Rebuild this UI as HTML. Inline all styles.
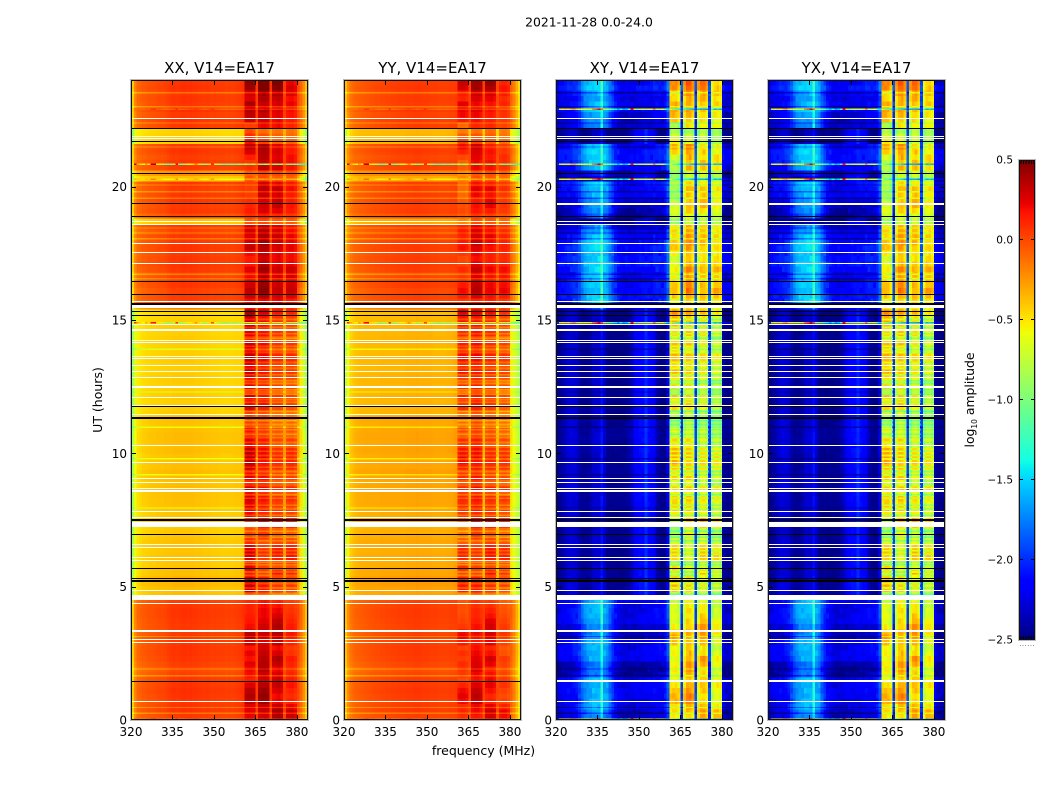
<!DOCTYPE html>
<html>
<head>
<meta charset="utf-8">
<title>2021-11-28 0.0-24.0</title>
<style>
html,body{margin:0;padding:0;background:#fff;}
svg{display:block;}
text{font-family:"DejaVu Sans","Liberation Sans",sans-serif;fill:#000;}
</style>
</head>
<body>
<svg id="figure" xmlns="http://www.w3.org/2000/svg" width="1050" height="800" viewBox="0 0 1050 800">
<rect x="0" y="0" width="1050" height="800" fill="#fff"/>
<text x="589" y="26.5" font-size="12.4" text-anchor="middle">2021-11-28 0.0-24.0</text>
<text x="483.5" y="755" font-size="12.5" text-anchor="middle">frequency (MHz)</text>
<text transform="translate(102,400) rotate(-90)" font-size="12.5" text-anchor="middle">UT (hours)</text>
<text transform="translate(974,400) rotate(-90)" font-size="12.4" text-anchor="middle">log<tspan font-size="7.5" dy="3">10</tspan><tspan dy="-3"> amplitude</tspan></text>
</svg>
<script>
// ---------- chart data (log10 amplitude) ----------
const panelNames = ["XX", "YY", "XY", "YX"];
const xTickValues = [320, 335, 350, 365, 380];
const yTickValues = [0, 5, 10, 15, 20];
const colorbarTickValues = [0.5, 0.0, -0.5, -1.0, -1.5, -2.0, -2.5];

// spectra per 1 MHz channel, 320..383 MHz
const nightXX = [-.45,-.22,-.12,-.1,-.08,-.07,-.05,-.05,-.04,-.03,
 -.02,-.02,-.01,.01,.03,.04,.03,.04,.05,.05,
 .04,.05,.04,.04,.03,.03,.02,.03,.02,.01,
 .02,.01,.01,.01,0,.01,0,.01,.02,.03,
 .05,.23,.25,.25,.23,.02,.25,.27,.28,.25,
 .04,.2,.22,.24,.2,.02,.16,.18,.18,.14,
 -.02,-.12,-.25,-.42];
const dayXX = [-.85,-.62,-.5,-.47,-.45,-.44,-.43,-.42,-.42,-.41,
 -.41,-.41,-.4,-.4,-.4,-.39,-.39,-.39,-.39,-.39,
 -.39,-.39,-.39,-.4,-.4,-.4,-.41,-.41,-.41,-.42,
 -.42,-.42,-.43,-.43,-.43,-.43,-.43,-.42,-.42,-.42,
 -.4,.13,.16,.16,.1,-.2,.07,.09,.09,.05,
 -.25,0,.03,.03,0,-.28,0,.03,.03,-.02,
 -.3,-.5,-.68,-.85];
const nightYY = [-.4,-.25,-.16,-.12,-.1,-.09,-.08,-.07,-.06,-.05,
 -.04,-.03,-.03,-.02,-.02,-.01,-.01,0,0,.01,
 .01,.01,.02,.02,.02,.03,.03,.03,.02,.02,
 .02,.01,.01,.01,0,0,0,0,.01,.01,
 .02,.09,.11,.11,.08,0,.15,.17,.17,.13,
 0,.12,.14,.14,.1,-.02,.06,.08,.08,.04,
 -.1,-.2,-.35,-.5];
const dayYY = [-.75,-.55,-.42,-.38,-.35,-.34,-.34,-.33,-.33,-.33,
 -.33,-.33,-.33,-.32,-.32,-.32,-.32,-.32,-.32,-.32,
 -.32,-.32,-.31,-.31,-.31,-.31,-.3,-.31,-.31,-.31,
 -.31,-.31,-.32,-.32,-.32,-.32,-.32,-.31,-.31,-.3,
 -.28,-.03,0,0,-.04,-.35,.05,.08,.08,.04,
 -.38,.02,.05,.05,.01,-.4,-.04,-.01,-.01,-.05,
 -.5,-.62,-.72,-.8];
const nightXY = [-2.3,-2.25,-2.22,-2.2,-2.18,-2.18,-2.12,-2.1,-2,-1.85,
 -1.75,-1.68,-1.65,-1.62,-1.6,-1.6,-1.32,-1.65,-1.7,-1.85,
 -2,-2.12,-2.2,-2.25,-2.28,-2.28,-2.28,-2.28,-2.28,-2.25,
 -2.25,-2.25,-2.22,-2.22,-2.22,-2.18,-2.18,-2.18,-2.18,-2.12,
 -1.9,-.55,-.5,-.5,-.62,-1.95,-.62,-.42,-.42,-.55,
 -1.95,-.68,-.5,-.48,-.6,-1.95,-.7,-.54,-.52,-.6,
 -2.25,-2.35,-2.35,-2.38];
const dayXY = [-2.47,-2.45,-2.4,-2.34,-2.28,-2.26,-2.28,-2.3,-2.4,-2.45,
 -2.45,-2.45,-2.4,-2.32,-2.3,-2.3,-2.1,-2.32,-2.45,-2.47,
 -2.47,-2.47,-2.47,-2.47,-2.47,-2.45,-2.4,-2.35,-2.2,-2.15,
 -2.12,-2.12,-2,-2.12,-2.15,-2.2,-2.38,-2.45,-2.47,-2.47,
 -2.2,-.7,-.6,-.6,-.72,-1.95,-.7,-.56,-.56,-.7,
 -1.95,-.78,-.58,-.56,-.7,-1.95,-.82,-.66,-.64,-.76,
 -2.42,-2.47,-2.47,-2.47];
const nightYX = [-2.3,-2.26,-2.22,-2.2,-2.18,-2.18,-2.14,-2.08,-1.96,-1.82,
 -1.72,-1.66,-1.64,-1.62,-1.6,-1.6,-1.34,-1.64,-1.7,-1.88,
 -2.02,-2.14,-2.2,-2.25,-2.28,-2.28,-2.28,-2.28,-2.27,-2.25,
 -2.25,-2.25,-2.22,-2.22,-2.22,-2.19,-2.18,-2.18,-2.18,-2.12,
 -1.9,-.5,-.48,-.5,-.62,-1.98,-.62,-.44,-.42,-.55,
 -1.95,-.66,-.48,-.46,-.6,-1.95,-.68,-.52,-.5,-.58,
 -2.25,-2.35,-2.37,-2.38];
const dayYX = [-2.47,-2.45,-2.4,-2.34,-2.28,-2.26,-2.28,-2.3,-2.4,-2.45,
 -2.45,-2.45,-2.4,-2.32,-2.3,-2.3,-2.12,-2.32,-2.45,-2.47,
 -2.47,-2.47,-2.47,-2.47,-2.47,-2.45,-2.4,-2.33,-2.2,-2.15,
 -2.12,-2.12,-2.02,-2.12,-2.15,-2.2,-2.38,-2.45,-2.47,-2.47,
 -2.2,-.66,-.58,-.58,-.7,-1.95,-.68,-.54,-.54,-.68,
 -1.95,-.76,-.56,-.54,-.68,-1.95,-.8,-.64,-.62,-.74,
 -2.42,-2.47,-2.47,-2.47];

// per-row values, one row = 0.2 h, row 0 at UT 0
const rowDayWeight = [0,0,0,0,0,0,0,0,0,0,
 0,0,0,0,0,0,0,0,0,0,
 0,0,0,1,1,1,1,1,1,1,
 1,1,1,1,1,1,1,1,1,1,
 1,1,1,1,1,1,1,1,1,1,
 1,1,1,1,1,1,1,1,1,1,
 1,1,1,1,1,1,1,1,1,1,
 1,1,1,1,1,1,1,.5,0,0,
 0,0,0,0,0,0,0,0,0,0,
 0,0,0,.9,.1,0,0,0,0,0,
 0,.9,.6,0,0,0,0,0,1,1,
 1,0,0,0,0,0,0,0,0,0];
const rowLowShift = [.01,.03,.03,.02,.03,.04,.03,.02,-.01,-.03,
 0,.02,.03,.03,.02,.01,0,.01,.02,.03,
 .03,.02,0,.02,.03,.05,.05,.02,.01,0,
 .01,0,.01,.02,0,-.01,-.02,0,0,.01,
 .02,.02,.02,.03,.02,.03,.04,.02,.02,.01,
 .03,.02,.03,.03,.02,.01,.02,-.02,-.02,-.03,
 -.02,-.02,-.03,-.02,-.02,-.03,-.03,-.02,-.03,-.03,
 -.03,-.02,-.03,-.03,-.03,-.04,-.05,0,0,.01,
 -.01,.02,.03,-.01,.02,.03,.02,.01,.03,.02,
 .02,-.01,.02,-.03,0,.02,.01,.03,.02,.01,
 .02,-.03,0,.01,.02,0,.03,.02,-.03,-.03,
 -.04,.02,.03,.01,.04,.02,.03,.02,.04,.03];
const rowCrossShift = [-.1,-.1,0,0,0,0,0,.02,-.15,-.15,
 -.15,0,0,0,0,-.1,-.1,-.1,0,0,
 0,0,.05,0,0,0,0,0,0,0,
 0,0,0,0,0,0,0,0,0,0,
 0,0,0,0,0,0,0,0,0,0,
 0,0,0,0,0,0,0,0,0,0,
 0,0,0,0,0,0,0,0,0,0,
 0,0,0,0,0,0,0,0,.15,.12,
 .1,.08,.05,.08,.1,.12,.1,.08,.1,.1,
 .05,0,-.1,-.15,-.2,-.15,-.1,-.05,.02,.05,
 .08,0,-.05,.05,.1,.12,.1,.05,0,0,
 0,-.1,-.1,-.05,.05,.02,-.05,.02,.1,.05];
const blockA = [-.02,.02,0,.1,.14,.1,.02,-.1,-.05,-.04,
 0,-.06,-.02,-.08,.05,.12,.1,-.05,-.08,-.1,
 -.12,-.12,-.15,-.1,.15,.18,.12,.02,.1,-.05,
 .12,.15,.1,-.05,-.12,-.15,-.2,-.1,.05,.12,
 .1,.12,.05,.12,-.05,.1,.05,.15,.2,.22,
 .18,.05,.1,-.05,.02,-.1,-.15,-.12,.1,.05,
 .15,-.05,.1,.02,.1,.18,.1,.18,.2,.12,
 .15,-.02,.1,.15,.2,.18,.25,0,-.05,.05,
 .1,.05,0,-.05,0,-.08,-.1,-.05,.08,.05,
 .02,.05,.02,-.2,-.15,-.1,-.12,-.15,-.2,-.2,
 -.2,-.2,-.25,-.15,-.18,-.1,.02,.1,.03,-.05,
 -.15,-.2,.05,.1,.12,.15,.02,.05,.18,.2];
const blockB = [0,.04,.05,.15,.18,.15,.1,.02,.05,.1,
 .1,.08,.05,.02,0,.02,.05,.02,-.02,-.05,
 -.05,-.08,-.1,-.05,.08,.1,.05,-.05,-.05,-.08,
 -.02,.02,-.05,-.1,.02,-.05,.05,.12,.02,.1,
 .05,.1,0,.12,-.02,.1,.02,.08,.1,.14,
 .12,.02,.08,-.05,-.02,-.05,-.1,-.1,.05,.1,
 .1,0,.08,.02,.05,.1,.05,.12,.15,.05,
 .12,-.02,.1,.1,.12,.1,.18,0,-.05,.1,
 .2,.18,.12,.1,.15,.08,.02,.05,.1,.15,
 .12,.1,.08,-.1,-.1,0,.02,0,.05,.08,
 .02,-.1,-.15,.05,.05,.08,.1,.15,-.05,-.1,
 -.2,-.05,.02,.05,.1,.05,.1,.15,.25,.25];
const blockC = [.15,.2,.1,0,-.02,.05,.1,.08,.05,0,
 .1,.15,.05,-.02,.1,.12,.15,.15,.12,.05,
 0,-.05,-.1,-.1,.02,.05,0,.15,-.05,-.02,
 .12,.15,.1,-.02,-.08,-.1,.1,.18,.02,.05,
 .02,.05,-.05,.08,-.1,0,-.02,.05,.08,.1,
 .05,-.1,0,-.08,-.05,-.12,-.15,-.15,-.02,.02,
 .05,-.05,.02,-.05,.02,.05,0,.08,.1,0,
 .05,-.08,.05,.02,.08,.05,.15,0,0,.05,
 .1,.08,.05,.05,.08,.02,0,0,.05,.08,
 .1,.05,.05,-.1,-.1,.02,.1,.1,.05,.1,
 0,-.1,-.1,.05,.05,.02,.05,.02,-.1,-.1,
 -.15,-.02,0,.02,.05,.05,.1,.15,.25,.3];
const blockD = [.12,.15,.05,-.05,-.08,-.05,0,-.02,-.05,-.08,
 -.05,-.02,-.1,-.12,-.05,-.02,0,-.02,-.05,-.08,
 -.1,-.12,-.15,-.12,0,.05,0,.1,-.05,0,
 .15,.12,.1,-.02,-.1,-.1,.08,.12,0,.05,
 .02,.08,-.05,.1,-.1,.02,0,.08,.1,.12,
 .08,-.08,.02,-.1,-.05,-.1,-.15,-.15,-.05,0,
 .02,-.08,0,-.05,.02,.05,0,.08,.1,0,
 .05,-.1,.02,.02,.05,.02,.1,0,-.02,.08,
 .15,.12,.1,.1,.12,.05,.02,.02,.06,.05,
 .05,.02,0,-.1,-.1,-.02,0,-.02,-.02,.02,
 -.02,-.1,-.1,0,.02,.02,-.02,-.02,-.1,-.12,
 -.15,-.05,-.02,0,.02,.05,.02,.08,.1,.05];

// fine-grain speckle seen on the cross-hand panels
const crossGrain = [.06,-.05,.09,-.02,.03,-.09,.05,.01,-.07,.1,-.04,.02,-.1,.07,-.01,.04,-.06,.08,-.03,0,.05,-.08,.02,.09,-.05,-.02,.06,-.09,.03,.07,-.04];

// thin paler lines
const paleRowHours = [23.52,23.0,22.39,21.49,20.06,19.81,19.57,18.45,18.26,18.05,16.72,16.55,3.13,1.91,1.66,.47,.25,10.98,9.8,9.2,7.95,13.9,12.3];
const paleParallelShift = -.2;
const paleCrossShift = -.25;

// thin striations inside the high-band blocks during the yellow epoch
const blockStripeHours = [4.72,4.95,5.12,5.42,5.55,5.82,5.92,6.22,6.35,6.72,6.85,7.08,7.68,7.9,8.05,8.32,8.44,8.78,9.18,9.32,9.48,9.78,9.92,10.08,10.42,10.58,10.72,10.88,11.08,11.22,11.58,11.92,12.02,12.22,12.38,12.62,12.72,12.95,13.18,13.42,13.78,13.88,14.02,14.32,14.48,14.72,15.02];
const blockStripeShift = -.18;

// RFI spike rows
const spikeRowHours = [22.9,20.84,20.28,14.9,.03];
const spikeParallelWeights = [.15,1,.3,.8,.2];
const spikeCrossWeights = [1,1,1,1,1];
const spikeParallel = [-.6,.3,-.3,-.5,-.6,-.3,-.5,.3,.35,-.5,
 -.55,-.8,-1,-1.1,-1,-.9,.2,-1.1,-1,-.9,
 -.7,-.6,-.5,-.2,-.5,-.8,-1,-.9,-.5,.1,
 -.7,-.8,-1,-1.1,-1.1,-1,-1,-1.1,-1,-.9,
 -1,-.7,-1,-.9,-.8,-.3,-.9,-1,-.8,-.7,
 -.3,-1,-.9,-1,-.8,-.3,-1,-1,-1.1,-1,
 -1.1,-1.2,-1.2,-1.2];
const spikeCross = [-2,-.5,-.6,-.5,-.55,-.4,-.3,-.5,-.6,-.55,
 -.6,-.7,-.5,-.2,-.05,.25,-.1,-.8,-.9,-1,
 -1.2,-1.4,-1.6,-1.3,-1.6,-1.5,-1,.2,-.5,-.9,
 -.7,-.7,-.7,-.6,-.7,-.2,-.7,-.7,-.6,-1,
 -1.5,-.7,-1,-1.2,-1.4,-2,-1.3,-1.4,-1.5,-1.6,
 -2,-1.6,-1.6,-1.6,-1.7,-2,-1.3,-1.6,-1.5,-1.6,
 -2.2,-2.2,-2.3,-2.3];

// flagged integrations (UT centre and duration in hours)
const whiteFlagHours = [22.56,21.87,21.79,18.69,18.59,17.88,17.54,17.13,15.7,15.5,14.84,14.64,14.24,14.16,13.64,13.56,13.3,13.08,12.84,12.5,12.1,11.8,11.45,10.3,9.66,9.05,8.9,8.67,8.61,8.55,7.82,7.59,7.34,6.59,6.48,6.1,5.99,4.85,4.595,4.36,3.35,3.03,2.91,.7];
const whiteFlagWidths = [.04,.04,.04,.04,.04,.04,.04,.04,.04,.12,.04,.08,.04,.04,.04,.04,.04,.04,.04,.08,.04,.04,.04,.04,.04,.04,.04,.04,.04,.04,.04,.04,.2,.04,.04,.04,.04,.04,.17,.04,.08,.04,.04,.04];
const blackFlagHours = [22.17,21.68,20.49,18.89,16.45,15.96,15.61,15.31,15.18,11.76,11.34,7.48,6.96,5.69,5.3,5.24,5.18];
const blackFlagWidths = [.04,.04,.04,.04,.04,.04,.08,.04,.04,.04,.08,.08,.04,.04,.03,.03,.03];
const mixedFlagHours = [19.35,1.46];
const mixedFlagParallelWidths = [.04,.04];
const mixedFlagCrossWidths = [.06,.09];

// ---------- rendering ----------
const NS = "http://www.w3.org/2000/svg";
const svg = document.getElementById("figure");
const panelLefts = [131, 344, 556, 768];
const plotWidth = 177;
const plotTop = 80;
const plotBottom = 720;
const xMin = 320;
const xMax = 384;
const yMax = 24;
const rowHours = 0.2;
const colorMin = -2.5;
const colorMax = 0.5;
const cbLeft = 1019;
const cbRight = 1035;
const cbTop = 160;
const cbBottom = 640;

function xScale(panel, mhz) { return panelLefts[panel] + (mhz - xMin) / (xMax - xMin) * plotWidth; }
function yScale(hour) { return plotBottom - hour / yMax * (plotBottom - plotTop); }
function cbScale(v) { return cbTop + (colorMax - v) / (colorMax - colorMin) * (cbBottom - cbTop); }

function lerpTable(t, table) {
  for (let i = 1; i < table.length; i++) {
    if (t <= table[i][0]) {
      const a = table[i - 1], b = table[i];
      return a[1] + (b[1] - a[1]) * (t - a[0]) / (b[0] - a[0]);
    }
  }
  return table[table.length - 1][1];
}
const jetR = [[0,0],[.35,0],[.66,1],[.89,1],[1,.5]];
const jetG = [[0,0],[.125,0],[.375,1],[.64,1],[.91,0],[1,0]];
const jetB = [[0,.5],[.11,1],[.34,1],[.65,0],[1,0]];
function jet(v) {
  const t = Math.max(0, Math.min(1, (v - colorMin) / (colorMax - colorMin)));
  const c = [jetR, jetG, jetB].map(function (k) { return Math.round(255 * lerpTable(t, k)); });
  return "rgb(" + c[0] + "," + c[1] + "," + c[2] + ")";
}

const nightProfiles = [nightXX, nightYY, nightXY, nightYX];
const dayProfiles = [dayXX, dayYY, dayXY, dayYX];
const blockSets = [blockA, blockB, blockC, blockD];
const blockStarts = [41, 46, 51, 56];
function blockIndex(ch) {
  for (let b = 0; b < 4; b++) {
    if (ch >= blockStarts[b] && ch < blockStarts[b] + 4) return b;
  }
  return -1;
}
function cellValue(panel, row, ch) {
  const cross = panel >= 2;
  const d = rowDayWeight[row];
  let v = nightProfiles[panel][ch] * (1 - d) + dayProfiles[panel][ch] * d;
  const b = blockIndex(ch);
  if (b >= 0) {
    v += blockSets[b][row] * (cross ? 1.5 : 1);
  } else if (cross) {
    v += rowLowShift[row] * (1 - .5 * d) + rowCrossShift[row];
  } else {
    v += rowLowShift[row];
  }
  if (cross) v += crossGrain[(row * 7 + ch * 11) % crossGrain.length] * (.7 - .4 * d);
  return v;
}
function mk(parent, tag, attrs) {
  const el = document.createElementNS(NS, tag);
  for (const k in attrs) el.setAttribute(k, attrs[k]);
  parent.appendChild(el);
  return el;
}

panelNames.forEach(function (name, p) {
  const cross = p >= 2;
  const left = panelLefts[p];
  const key = name.toLowerCase();
  const panel = mk(svg, "g", {});
  
  

  const clipId = "clip-" + key;
  const defs = mk(panel, "defs", {});
  const cp = mk(defs, "clipPath", { id: clipId });
  mk(cp, "rect", { x: left, y: plotTop, width: plotWidth, height: plotBottom - plotTop });

  const heat = mk(panel, "g", { "clip-path": "url(#" + clipId + ")", "shape-rendering": "crispEdges" });
  
  

  function drawRow(valueAt, hourBottom, hourTop, label, onlyBlocks) {
    const y0 = yScale(hourTop), y1 = yScale(hourBottom);
    for (let ch = 0; ch < xMax - xMin; ch++) {
      if (onlyBlocks && blockIndex(ch) < 0) continue;
      const x0 = xScale(p, xMin + ch), x1 = xScale(p, xMin + ch + 1);
      const cell = mk(heat, "rect", { x: x0.toFixed(2), y: y0.toFixed(2), width: (x1 - x0 + .3).toFixed(2), height: Math.max(y1 - y0, 1).toFixed(2), fill: jet(valueAt(ch)) });
      
      
    }
  }
  // base rows
  rowDayWeight.forEach(function (_, row) {
    drawRow(function (ch) { return cellValue(p, row, ch); }, row * rowHours, (row + 1) * rowHours, 'heatmap-cell', false);
  });
  // block striations
  blockStripeHours.forEach(function (h) {
    const row = Math.min(rowDayWeight.length - 1, Math.floor(h / rowHours));
    drawRow(function (ch) { return cellValue(p, row, ch) + blockStripeShift * (cross ? 1.5 : 1); }, h - .03, h + .03, 'block-stripe-cell', true);
  });
  // pale lines
  paleRowHours.forEach(function (h) {
    const row = Math.min(rowDayWeight.length - 1, Math.floor(h / rowHours));
    drawRow(function (ch) { return cellValue(p, row, ch) + (cross ? paleCrossShift : paleParallelShift); }, h - .025, h + .025, 'pale-row-cell', false);
  });
  // RFI spikes
  spikeRowHours.forEach(function (h, s) {
    const row = Math.min(rowDayWeight.length - 1, Math.floor(h / rowHours));
    const w = cross ? spikeCrossWeights[s] : spikeParallelWeights[s];
    const prof = cross ? spikeCross : spikeParallel;
    drawRow(function (ch) { return cellValue(p, row, ch) * (1 - w) + prof[ch] * w; }, h - .025, h + .025, 'rfi-spike-cell', false);
  });

  // flags
  const flagX = left + 1;
  const flagW = plotWidth - 2;
  function drawFlag(hour, width, colour, label) {
    const yTop = Math.round(yScale(hour + width / 2));
    const barH = Math.max(Math.round(yScale(0) - yScale(width)), 1);
    const bar = mk(heat, "rect", { x: flagX, y: yTop, width: flagW, height: barH, fill: colour });
    
    
  }
  whiteFlagHours.forEach(function (h, i) { drawFlag(h, whiteFlagWidths[i], "#fff", 'flagged-row-white'); });
  blackFlagHours.forEach(function (h, i) { drawFlag(h, blackFlagWidths[i], "#000", 'flagged-row-black'); });
  mixedFlagHours.forEach(function (h, i) {
    if (cross) drawFlag(h, mixedFlagCrossWidths[i], "#fff", 'flagged-row-white');
    else drawFlag(h, mixedFlagParallelWidths[i], "#000", 'flagged-row-black');
  });

  // ticks
  const ticks = mk(panel, "g", { stroke: "#000", "stroke-width": 1, "shape-rendering": "crispEdges" });
  
  
  xTickValues.forEach(function (v) {
    const x = Math.round(xScale(p, v)) + .5;
    mk(ticks, "line", { x1: x, x2: x, y1: plotBottom, y2: plotBottom - 5 });
    mk(ticks, "line", { x1: x, x2: x, y1: plotTop, y2: plotTop + 5 });
    const lab = mk(panel, "text", { x: xScale(p, v), y: 736, "font-size": 12, "text-anchor": "middle" });
    lab.textContent = v;
    
    
  });
  yTickValues.forEach(function (v) {
    const y = Math.round(yScale(v)) + .5;
    mk(ticks, "line", { x1: left, x2: left + 5, y1: y, y2: y });
    mk(ticks, "line", { x1: left + plotWidth, x2: left + plotWidth - 5, y1: y, y2: y });
    const lab = mk(panel, "text", { x: left - 4, y: yScale(v) + 4.5, "font-size": 12, "text-anchor": "end" });
    lab.textContent = v;
    
    
  });

  // frame
  const halo = mk(panel, "rect", { x: left - .5, y: plotTop - .5, width: plotWidth + 1, height: plotBottom - plotTop + 1, fill: "none", stroke: "#b8b8b8", "stroke-width": 1, "shape-rendering": "crispEdges" });
  
  
  const frame = mk(panel, "rect", { x: left + .5, y: plotTop + .5, width: plotWidth - 1, height: plotBottom - plotTop - 1, fill: "none", stroke: "#111", "stroke-width": 1, "shape-rendering": "crispEdges" });
  
  

  const title = mk(panel, "text", { x: left + plotWidth / 2, y: 73, "font-size": 15, "text-anchor": "middle" });
  title.textContent = name + ", V14=EA17";
  
  
});

// ---------- colour bar ----------
const cb = mk(svg, "g", {});


const cbRamp = mk(cb, "g", { "shape-rendering": "crispEdges" });


for (let py = cbTop; py < cbBottom; py += 2) {
  const v = colorMax - (py + 1 - cbTop) / (cbBottom - cbTop) * (colorMax - colorMin);
  mk(cbRamp, "rect", { x: cbLeft, y: py, width: cbRight - cbLeft, height: 2, fill: jet(v) });
}
const cbTicks = mk(cb, "g", { stroke: "#000", "stroke-width": 1, "shape-rendering": "crispEdges" });


colorbarTickValues.forEach(function (v) {
  const y = Math.round(cbScale(v)) - .5;
  mk(cbTicks, "line", { x1: cbLeft, x2: cbLeft + 4, y1: y, y2: y });
  mk(cbTicks, "line", { x1: cbRight, x2: cbRight - 4, y1: y, y2: y });
  const lab = mk(cb, "text", { x: 1013, y: cbScale(v) + 3.5, "font-size": 10.5, "text-anchor": "end" });
  lab.textContent = v.toFixed(1).replace("-", "\u2212");
  
  
});
for (let k = 0; k < 6; k++) {
  const x = cbLeft + 2 + k * 2.6;
  mk(cbTicks, "line", { x1: x, x2: x, y1: cbTop, y2: cbTop + 4 });
  mk(cbTicks, "line", { x1: x, x2: x, y1: cbBottom, y2: cbBottom - 4 });
  mk(cbTicks, "rect", { x: x - 1, y: 645, width: 1, height: 1, fill: "#999", stroke: "none" });
}
const cbHalo = mk(cb, "rect", { x: cbLeft - .5, y: cbTop - .5, width: cbRight - cbLeft + 1, height: cbBottom - cbTop + 1, fill: "none", stroke: "#b8b8b8", "shape-rendering": "crispEdges" });


const cbFrame = mk(cb, "rect", { x: cbLeft + .5, y: cbTop + .5, width: cbRight - cbLeft - 1, height: cbBottom - cbTop - 1, fill: "none", stroke: "#111", "shape-rendering": "crispEdges" });


</script>
</body>
</html>
